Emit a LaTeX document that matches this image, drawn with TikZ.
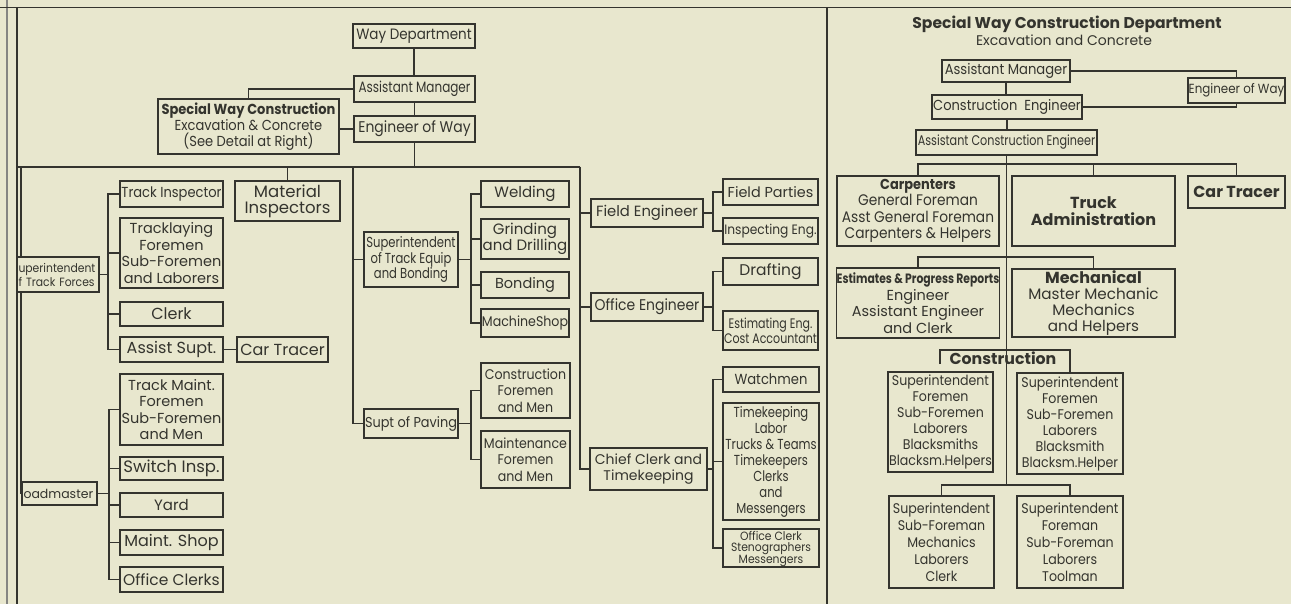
\documentclass[tikz,border=0pt]{standalone}
\usepackage{fontspec}
\setmainfont{Poppins}
\newfontfamily\sB{Poppins}[FakeStretch=0.8]
\newfontfamily\sC{Poppins}[FakeStretch=0.9]
\definecolor{paper}{RGB}{232,231,206}
\definecolor{ink}{RGB}{52,52,46}
\newcommand{\fsz}[2]{\fontsize{#1}{#2}\selectfont}
\tikzset{
  box/.style={draw=ink, line width=1.3pt, fill=paper, inner sep=0pt, align=center, text=ink},
  ln/.style={draw=ink, line width=1.2pt},
  frame/.style={draw=ink, line width=1.6pt},
  lbl/.style={text=ink, inner sep=0pt, align=center}
}
\begin{document}
\begin{tikzpicture}[x=1pt,y=-1pt]
\useasboundingbox (0,0) rectangle (1291,604);
\fill[paper] (0,0) rectangle (1291,604);
% frame
\draw[frame, draw=ink!60] (7,0) -- (7,604);
\draw[frame] (17,7.5) -- (17,604);
\draw[frame] (0,7.5) -- (1291,7.5);
\draw[frame] (827,7.5) -- (827,604);

% ---------------- left panel ----------------
\node[box,minimum width=122,minimum height=24,font=\sC\fsz{15}{16}] (wd) at (414,36) {Way Department};
\node[box,minimum width=121,minimum height=26,font=\sB\fsz{15}{16}] (am) at (414.5,89) {Assistant Manager};
\node[box,minimum width=121,minimum height=26,font=\sC\fsz{15.5}{16}] (ew) at (414.5,129) {Engineer of Way};
\node[box,minimum width=181,minimum height=55,font=\sC\fsz{14.5}{16}] (swc) at (248.5,126.5) {{\bfseries Special Way Construction}\\Excavation \& Concrete\\(See Detail at Right)};
\node[box,minimum width=105,minimum height=40,font=\fsz{16.5}{16}] (mi) at (287.5,201) {Material\\Inspectors};

\node[box,minimum width=82,minimum height=35,text width=79,inner xsep=1.5pt,align=left,font=\sC\fsz{12}{14}] (stf) at (58,274.5) {uperintendent\\f Track Forces};
\node[box,minimum width=103,minimum height=26,font=\sC\fsz{14.5}{16}] (ti) at (171.5,194) {Track Inspector};
\node[box,minimum width=103,minimum height=70,font=\fsz{14.5}{16.5}] (tl) at (171.5,253) {Tracklaying\\Foremen\\Sub-Foremen\\and Laborers};
\node[box,minimum width=103,minimum height=24,font=\fsz{16}{16}] (clk) at (171.5,314) {Clerk};
\node[box,minimum width=103,minimum height=25,font=\fsz{16}{16}] (as) at (171.5,349.5) {Assist Supt.};
\node[box,minimum width=91,minimum height=25,font=\fsz{16}{16}] (ct1) at (282.5,349.5) {Car Tracer};

\node[box,minimum width=75,minimum height=23,text width=72,inner xsep=1.5pt,align=left,font=\fsz{12.5}{14}] (rm) at (59.5,493.5) {oadmaster};
\node[box,minimum width=103,minimum height=71,font=\fsz{14.5}{16.5}] (tm) at (171.5,409.5) {Track Maint.\\Foremen\\Sub-Foremen\\and Men};
\node[box,minimum width=103,minimum height=23,font=\fsz{16.5}{16}] (si) at (171.5,468.5) {Switch Insp.};
\node[box,minimum width=103,minimum height=24,font=\fsz{15}{16}] (yd) at (171.5,505) {Yard};
\node[box,minimum width=103,minimum height=25,font=\fsz{16}{16}] (ms) at (171.5,542.5) {Maint. Shop};
\node[box,minimum width=103,minimum height=25,font=\fsz{15.5}{16}] (oc) at (171.5,579.5) {Office Clerks};

\node[box,minimum width=94,minimum height=55,font=\sB\fsz{14.5}{15.5}] (te) at (411,259.5) {Superintendent\\of Track Equip\\and Bonding};
\node[box,minimum width=94,minimum height=29,font=\sC\fsz{14.3}{16}] (sp) at (411,423.5) {Supt of Paving};
\node[box,minimum width=88,minimum height=26,font=\fsz{15}{16}] (we) at (525,194) {Welding};
\node[box,minimum width=88,minimum height=40,font=\fsz{15}{15}] (gd) at (525,239) {Grinding\\and Drilling};
\node[box,minimum width=88,minimum height=26,font=\fsz{14.5}{16}] (bo) at (525,285) {Bonding};
\node[box,minimum width=88,minimum height=28,font=\sC\fsz{14}{16}] (msh) at (525,323) {MachineShop};
\node[box,minimum width=89,minimum height=55,font=\sC\fsz{14}{16.5}] (cf) at (525.5,390.5) {Construction\\Foremen\\and Men};
\node[box,minimum width=89,minimum height=57,font=\sC\fsz{14}{16.5}] (mf) at (525.5,459.5) {Maintenance\\Foremen\\and Men};

\node[box,minimum width=112,minimum height=28,font=\fsz{14.8}{16}] (fe) at (647,213) {Field Engineer};
\node[box,minimum width=112,minimum height=28,font=\sC\fsz{15.5}{16}] (oe) at (647,307) {Office Engineer};
\node[box,minimum width=117,minimum height=42,font=\fsz{14}{16}] (cc) at (648.5,469) {Chief Clerk and\\Timekeeping};
\node[box,minimum width=95,minimum height=26,font=\fsz{14.4}{16}] (fp) at (770.5,192) {Field Parties};
\node[box,minimum width=95,minimum height=26,font=\sC\fsz{13.6}{16}] (ie) at (770.5,231) {Inspecting Eng.};
\node[box,minimum width=95,minimum height=27,font=\fsz{15.5}{16}] (dr) at (770.5,271.5) {Drafting};
\node[box,minimum width=95,minimum height=39,font=\sB\fsz{13.8}{15}] (ee) at (770.5,330.5) {Estimating Eng.\\Cost Accountant};
\node[box,minimum width=96,minimum height=25,font=\sC\fsz{14.6}{16}] (wa) at (771,379.5) {Watchmen};
\node[box,minimum width=96,minimum height=117,font=\sB\fsz{14.5}{16}] (tk) at (771,461.5) {Timekeeping\\Labor\\Trucks \& Teams\\Timekeepers\\Clerks\\and\\Messengers};
\node[box,minimum width=96,minimum height=38] (ocs) at (771,548) {};
\node[lbl,font=\sC\fsz{12}{11},yshift=-1.2pt] (ocst) at (ocs.center) {Office Clerk\\Stenographers\\Messengers};

% left connectors
\draw[ln] (wd.south) -- (wd.south |- am.north);
\draw[ln] (am.south) -- (am.south |- ew.north);
\draw[ln] (am.west) -| (swc.north);
\draw[ln] (ew.west) -- (ew.west -| swc.east);
\coordinate (hL) at (17,167);
\coordinate (hR) at (580,167);
\draw[ln] (hL) -- (hR);
\draw[ln] (ew.south) -- (ew.south |- hL);
\draw[ln] (mi.north) -- (mi.north |- hL);
\coordinate (b0) at (21,167);
\draw[ln] (b0) -- (b0 |- stf.north);
\draw[ln] (b0 |- stf.south) |- (rm.west);
\coordinate (t1) at (108,0);
\draw[ln] (stf.east) -- (stf.east -| t1);
\foreach \n in {ti,tl,clk,as} \draw[ln] (stf.east -| t1) |- (\n.west);
\draw[ln] (as.east) -- (ct1.west);
\coordinate (t2) at (109,0);
\draw[ln] (rm.east) -- (rm.east -| t2);
\foreach \n in {tm,si,yd,ms,oc} \draw[ln] (rm.east -| t2) |- (\n.west);
\coordinate (b1) at (353,167);
\draw[ln] (b1) |- (te.west);
\draw[ln] (b1) |- (sp.west);
\coordinate (t3) at (471,0);
\draw[ln] (te.east) -- (te.east -| t3);
\foreach \n in {we,gd,bo,msh} \draw[ln] (te.east -| t3) |- (\n.west);
\draw[ln] (sp.east) -- (sp.east -| t3);
\foreach \n in {cf,mf} \draw[ln] (sp.east -| t3) |- (\n.west);
\coordinate (b2) at (580,167);
\foreach \n in {fe,oe,cc} \draw[ln] (b2) |- (\n.west);
\coordinate (t4) at (713,0);
\draw[ln] (fe.east) -- (fe.east -| t4);
\foreach \n in {fp,ie} \draw[ln] (fe.east -| t4) |- (\n.west);
\draw[ln] (oe.east) -- (oe.east -| t4);
\foreach \n in {dr,ee} \draw[ln] (oe.east -| t4) |- (\n.west);
\draw[ln] (cc.east) -- (cc.east -| t4);
\foreach \n in {wa,tk,ocs} \draw[ln] (cc.east -| t4) |- (\n.west);

% ---------------- right panel ----------------
\node[lbl,font=\bfseries\fsz{15.6}{16}] (ttl) at (1067,24.5) {Special Way Construction Department};
\node[lbl,font=\fsz{14}{16}] (sub) at (1064,40.5) {Excavation and Concrete};
\node[box,minimum width=128,minimum height=22,font=\sC\fsz{14.6}{14}] (ram) at (1006,71) {Assistant Manager};
\node[box,minimum width=150,minimum height=24,font=\sC\fsz{14.5}{14}] (rce) at (1007,107) {Construction~~Engineer};
\node[box,minimum width=181,minimum height=25,font=\sB\fsz{14}{14}] (race) at (1006.5,142.5) {Assistant Construction Engineer};
\node[box,minimum width=97,minimum height=25,font=\sC\fsz{13.2}{14}] (rew) at (1236.5,90.5) {Engineer of Way};
\node[box,minimum width=162,minimum height=70,font=\sC\fsz{15.3}{16.5}] (car) at (918,211) {{\bfseries\fsz{14.4}{16.5}Carpenters}\\General Foreman\\Asst General Foreman\\Carpenters \& Helpers};
\node[box,minimum width=163,minimum height=70,font=\bfseries\fsz{16}{17}] (ta) at (1093.5,211) {Truck\\Administration};
\node[box,minimum width=97,minimum height=32,font=\bfseries\fsz{15.9}{17}] (rct) at (1236.5,192) {Car Tracer};
\node[box,minimum width=162,minimum height=70,font=\fsz{14.5}{16.5}] (est) at (918,303) {{\sB\bfseries\fsz{13.5}{16.5}Estimates \& Progress Reports}\\Engineer\\Assistant Engineer\\and Clerk};
\node[box,minimum width=163,minimum height=68,font=\fsz{15.2}{16}] (mech) at (1093.5,303) {{\bfseries\fsz{16}{16}Mechanical}\\Master Mechanic\\Mechanics\\and Helpers};
\node[lbl,font=\bfseries\fsz{15.8}{16}] (cons) at (1003,358) {Construction};
\node[box,minimum width=105,minimum height=100,font=\sC\fsz{14}{16}] (ca) at (940.5,422) {Superintendent\\Foremen\\Sub-Foremen\\Laborers\\Blacksmiths\\Blacksm.Helpers};
\node[box,minimum width=106,minimum height=101,font=\sC\fsz{14}{16}] (cb) at (1070,423.5) {Superintendent\\Foremen\\Sub-Foremen\\Laborers\\Blacksmith\\Blacksm.Helper};
\node[box,minimum width=105,minimum height=92,font=\sC\fsz{14}{17}] (ccc) at (941.5,542) {Superintendent\\Sub-Foreman\\Mechanics\\Laborers\\Clerk};
\node[box,minimum width=106,minimum height=92,font=\sC\fsz{14}{17}] (cd) at (1070,542) {Superintendent\\Foreman\\Sub-Foreman\\Laborers\\Toolman};

% right connectors
\draw[ln] (ram.south) -- (ram.south |- rce.north);
\draw[ln] (rce.south) -- (rce.south |- race.north);
\coordinate (rt) at (1006,485);
\draw[ln] (race.south) -- (race.south |- rt);
\draw[ln] (ram.east) -| (rew.north);
\draw[ln] (rce.east) -| (rew.south);
\coordinate (r1) at (918,164);
\draw[ln] (car.north) -- (r1) -| (rct.north);
\draw[ln] (ta.north) -- (ta.north |- r1);
\coordinate (r2) at (918,257);
\draw[ln] (est.north) -- (r2) -| (mech.north);
\coordinate (r3a) at (940,364);
\coordinate (r3) at (940,350);
\draw[ln] (r3a) -- (r3) -| (cb.north);
\coordinate (r4) at (941.5,485);
\draw[ln] (ccc.north) -- (r4) -| (cd.north);
\end{tikzpicture}
\end{document}
